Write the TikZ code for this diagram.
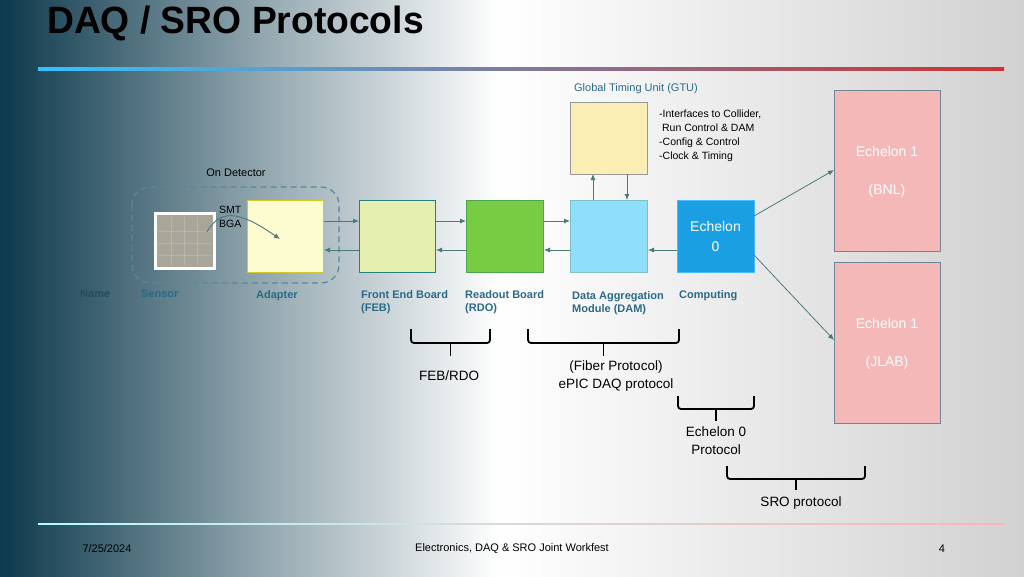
\documentclass[tikz,border=0pt]{standalone}
\usepackage{fontspec}
\setmainfont{Liberation Sans}
\usetikzlibrary{arrows.meta}
\begin{document}
\begin{tikzpicture}[x=1pt,y=-1pt,font=\fontsize{11}{13}\selectfont,
 blk/.style={draw,line width=1pt,anchor=north west,inner sep=0pt},
 arr/.style={draw=black!50!teal!70,line width=0.8pt,-{Latex[length=6pt,width=5pt]}},
 lbl/.style={text=lblc,font=\fontsize{11}{13}\selectfont\bfseries,align=left,anchor=north west,inner sep=0pt},
 brc/.style={line width=1.8pt,rounded corners=3pt},
 plain/.style={inner sep=0pt,align=center}]
\definecolor{lblc}{HTML}{2A6A88}
\definecolor{dk}{HTML}{0C394C}
\definecolor{ebd}{HTML}{6F8795}
\useasboundingbox (0,0) rectangle (1024,576);
\shade[left color=dk,right color=dk!45!white] (0,0) rectangle (260,576);
\shade[left color=dk!45!white,right color=white] (259.5,0) rectangle (500,576);
\shade[left color=white,right color=black!18] (499.5,0) rectangle (1024,576);
\node[anchor=west,inner sep=0pt,font=\fontsize{38}{40}\selectfont\bfseries,xscale=0.98] (title) at (47,23) {DAQ / SRO Protocols};
\shade[left color=cyan!70!blue!80,right color=red!75!black!80] (38,67.5) rectangle (1004,70.5);
\shade[left color=cyan!30,right color=red!30] (38,523.5) rectangle (1004,524.5);
\node[plain] (d) at (107,549) {7/25/2024};
\node[plain] (w) at (512,549) {Electronics, DAQ \& SRO Joint Workfest};
\node[plain] (p) at (942,549) {4};
% GTU
\node[plain,text=lblc] (gtul) at (636,89) {Global Timing Unit (GTU)};
\node[blk,draw=black!40,fill={rgb,255:red,251;green,238;blue,180},minimum width=77pt,minimum height=72pt] (gtu) at (570,102) {};
\node[inner sep=0pt,anchor=north west,align=left,font=\fontsize{10.5}{14}\selectfont] (gtut) at (659,110) {-Interfaces to Collider,\\\ Run Control \& DAM\\-Config \& Control\\-Clock \& Timing};
% Echelon 1
\node[blk,draw=ebd,fill={rgb,255:red,244;green,184;blue,184},minimum width=106pt,minimum height=161pt] (bnl) at (834,90) {};
\node[plain,text=white,font=\fontsize{14}{16}\selectfont] at (887,151) {Echelon 1};
\node[plain,text=white,font=\fontsize{14}{16}\selectfont] at (887,191) {(BNL)};
\node[blk,draw=ebd,fill={rgb,255:red,244;green,184;blue,184},minimum width=106pt,minimum height=161pt] (jlab) at (834,262) {};
\node[plain,text=white,font=\fontsize{14}{16}\selectfont] at (887,323) {Echelon 1};
\node[plain,text=white,font=\fontsize{14}{16}\selectfont] at (887,363) {(JLAB)};
% on detector
\node[plain] (ond) at (236,173) {On Detector};
\draw[lblc!80,dash pattern=on 6pt off 4pt,line width=1.2pt,rounded corners=18pt] (132,187) rectangle (339,283);
\node[blk,draw=white,line width=3pt,fill={rgb,255:red,168;green,166;blue,152},minimum width=59pt,minimum height=55pt] (sensor) at (154,212) {};
\foreach \i in {0,1,2} \draw[white!60!gray,opacity=0.4,line width=0.4pt] (156,231+\i*12) -- (211,231+\i*12);
\foreach \i in {0,1,2} \draw[white!60!gray,opacity=0.4,line width=0.4pt] (171+\i*13,217) -- (171+\i*13,266);
\node[blk,draw=yellow!50!olive!80,fill={rgb,255:red,253;green,251;blue,208},minimum width=76pt,minimum height=72pt] (adp) at (247,200) {};
\node[blk,draw=teal!70!gray,fill={rgb,255:red,228;green,239;blue,176},minimum width=76pt,minimum height=72pt] (feb) at (359,200) {};
\node[blk,draw=green!50!black!70,fill={rgb,255:red,120;green,204;blue,68},minimum width=77pt,minimum height=72pt] (rdo) at (466,200) {};
\node[blk,draw=teal!50,fill={rgb,255:red,144;green,223;blue,250},minimum width=77pt,minimum height=72pt] (dam) at (570,200) {};
\node[blk,draw=blue!40!cyan!70,fill={rgb,255:red,26;green,160;blue,226},minimum width=77pt,minimum height=72pt] (e0) at (677,200) {};
\node[plain,text=white,font=\fontsize{14}{20}\selectfont] at (715.5,236) {Echelon\\0};
\node[inner sep=0pt,anchor=north west,align=left,font=\fontsize{10.5}{14}\selectfont] (smt) at (219,206) {SMT\\BGA};
\draw[arr,line width=0.9pt] (207,232) .. controls (222,205) and (245,215) .. (280,239);
% arrows
\draw[arr] (adp.east|-0,221) -- (feb.west|-0,221);
\draw[arr] (feb.east|-0,221) -- (rdo.west|-0,221);
\draw[arr] (rdo.east|-0,221) -- (dam.west|-0,221);
\draw[arr] (feb.west|-0,250) -- (adp.east|-0,250);
\draw[arr] (rdo.west|-0,250) -- (feb.east|-0,250);
\draw[arr] (dam.west|-0,250) -- (rdo.east|-0,250);
\draw[arr] (e0.west|-0,250) -- (dam.east|-0,250);
\draw[arr] (593,200) -- (593,174);
\draw[arr] (627,174) -- (627,200);
\draw[arr] (754,216) -- (834,170);
\draw[arr] (754,255) -- (834,340);
% labels
\node[lbl,text=dk!90] (nm) at (80,290) {Name};
\node[lbl] (ls) at (141,290) {Sensor};
\node[lbl] (la) at (256,290) {Adapter};
\node[lbl] (lf) at (361,290) {Front End Board\\(FEB)};
\node[lbl] (lr) at (465,290) {Readout Board\\(RDO)};
\node[lbl] (ld) at (572,291) {Data Aggregation\\Module (DAM)};
\node[lbl] (lc) at (679,290) {Computing};
% braces
\draw[brc] (411,329) -- (411,343) -- (490,343) -- (490,329);
\draw[line width=1.8pt] (450.5,343) -- (450.5,356);
\node[plain,font=\fontsize{13.5}{15}\selectfont] at (449,376) {FEB/RDO};
\draw[brc] (528,329) -- (528,343) -- (679,343) -- (679,329);
\draw[line width=1.8pt] (603.5,343) -- (603.5,356);
\node[plain,font=\fontsize{13.5}{18}\selectfont] at (616,376) {(Fiber Protocol)\\ePIC DAQ protocol};
\draw[brc] (678,396) -- (678,409) -- (754,409) -- (754,396);
\draw[line width=1.8pt] (716,409) -- (716,421);
\node[plain,font=\fontsize{13.5}{18}\selectfont] at (716,441) {Echelon 0\\Protocol};
\draw[brc] (727,466) -- (727,479) -- (865,479) -- (865,466);
\draw[line width=1.8pt] (796,479) -- (796,490);
\node[plain,font=\fontsize{13.5}{15}\selectfont] at (801,503) {SRO protocol};
\end{tikzpicture}
\end{document}
